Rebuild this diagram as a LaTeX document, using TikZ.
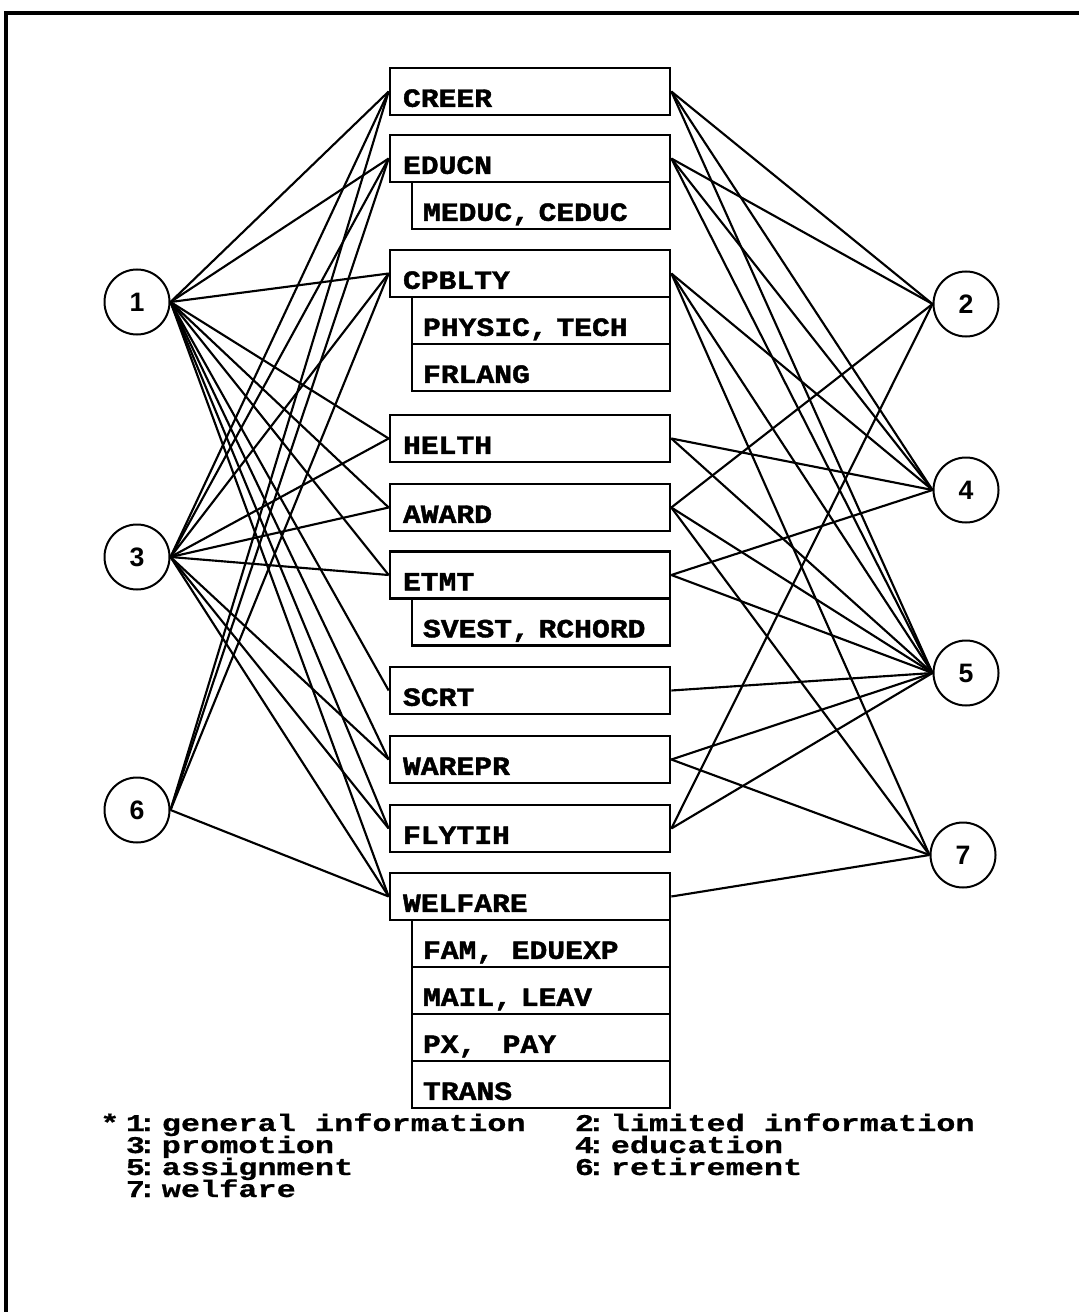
\documentclass[tikz,border=0pt]{standalone}
\usepackage{fontspec}
\newfontfamily\boxfont[FakeStretch=1.13,FakeBold=1.6]{Liberation Mono}
\newfontfamily\legfont[FakeStretch=1.33,FakeBold=0.6]{Liberation Mono}
\newfontfamily\numfont{Liberation Sans}
\newcommand\legitem[2]{\kern-0.1em#1\kern-0.3em:\kern0.2em#2}
\begin{document}
\begin{tikzpicture}[x=0.75pt,y=-0.75pt,
  circ/.style={draw, circle, line width=1.5pt, minimum size=48.75pt, inner sep=0pt,
    font=\numfont\bfseries\fontsize{20}{20}\selectfont},
  mainbox/.style={draw, line width=2pt, rectangle, minimum height=35.25pt,
    inner ysep=0pt, inner xsep=9.75pt, text width=190.5pt, align=left,
    text height=23pt, text depth=0pt,
    font=\boxfont\bfseries\fontsize{19.7}{20}\selectfont},
  subbox/.style={mainbox, inner xsep=8.25pt, text width=177pt},
  conn/.style={line width=1.6pt},
  frame/.style={line width=2.4pt},
  legtext/.style={anchor=base west, inner sep=0pt,
    font=\legfont\bfseries\fontsize{18}{18}\selectfont}]
\useasboundingbox (0,0) rectangle (1079,1312);
% frame
\coordinate (fbl) at (6,1312);
\coordinate (ftl) at (6,13);
\coordinate (ftr) at (1079,13);
\draw[frame] (fbl) -- (ftl) -- (ftr);

% circles
\node[circ] (c1) at (137,302) {1};
\node[circ] (c3) at (137,557) {3};
\node[circ] (c6) at (137,810) {6};
\node[circ] (c2) at (966,304) {2};
\node[circ] (c4) at (966,490) {4};
\node[circ] (c5) at (966,673) {5};
\node[circ] (c7) at (963,855) {7};

% boxes
\node[mainbox] (creer) at (530,91.5) {CREER};
\node[mainbox] (educn) at (530,158.5) {EDUCN};
\node[subbox] (meduc) at (541,205.5) {MEDUC, CEDUC};
\node[mainbox] (cpblty) at (530,273.5) {CPBLTY};
\node[subbox] (physic) at (541,320.5) {PHYSIC, TECH};
\node[subbox] (frlang) at (541,367.5) {FRLANG};
\node[mainbox] (helth) at (530,438.5) {HELTH};
\node[mainbox] (award) at (530,507.5) {AWARD};
\node[mainbox] (etmt) at (530,575) {ETMT};
\node[subbox] (svest) at (541,622) {SVEST, RCHORD};
\node[mainbox] (scrt) at (530,690.5) {SCRT};
\node[mainbox] (warepr) at (530,759.5) {WAREPR};
\node[mainbox] (flytih) at (530,828.5) {FLYTIH};
\node[mainbox] (welfare) at (530,896.5) {WELFARE};
\node[subbox] (fam) at (541,943.5) {FAM,~~EDUEXP};
\node[subbox] (mail) at (541,990.5) {MAIL, LEAV};
\node[subbox] (px) at (541,1037.5) {PX,~~~PAY};
\node[subbox] (trans) at (541,1084.5) {TRANS};

% left connectors
\foreach \b in {creer,educn,cpblty,helth,award,etmt,scrt,warepr,flytih,welfare}
  \draw[conn] (c1.east) -- (\b.west);
\foreach \b in {creer,educn,cpblty,helth,award,etmt,warepr,flytih,welfare}
  \draw[conn] (c3.east) -- (\b.west);
\foreach \b in {creer,educn,cpblty,welfare}
  \draw[conn] (c6.east) -- (\b.west);

% right connectors
\foreach \b/\c in {creer/c2,creer/c4,creer/c5,
                   educn/c2,educn/c4,educn/c5,
                   cpblty/c4,cpblty/c5,cpblty/c7,
                   helth/c4,helth/c5,
                   award/c2,award/c5,award/c7,
                   etmt/c4,etmt/c5,
                   scrt/c5,
                   warepr/c5,warepr/c7,
                   flytih/c2,flytih/c5,
                   welfare/c7}
  \draw[conn] (\b.east) -- (\c.west);

% legend
\node[legtext] (star) at (100,1131) {*};
\node[legtext] (leg1) at (128,1131) {\legitem{1}{general information}};
\node[legtext] (leg2) at (577,1131) {\legitem{2}{limited information}};
\node[legtext] (leg3) at (128,1153) {\legitem{3}{promotion}};
\node[legtext] (leg4) at (577,1153) {\legitem{4}{education}};
\node[legtext] (leg5) at (128,1175) {\legitem{5}{assignment}};
\node[legtext] (leg6) at (577,1175) {\legitem{6}{retirement}};
\node[legtext] (leg7) at (128,1197) {\legitem{7}{welfare}};
\end{tikzpicture}
\end{document}
